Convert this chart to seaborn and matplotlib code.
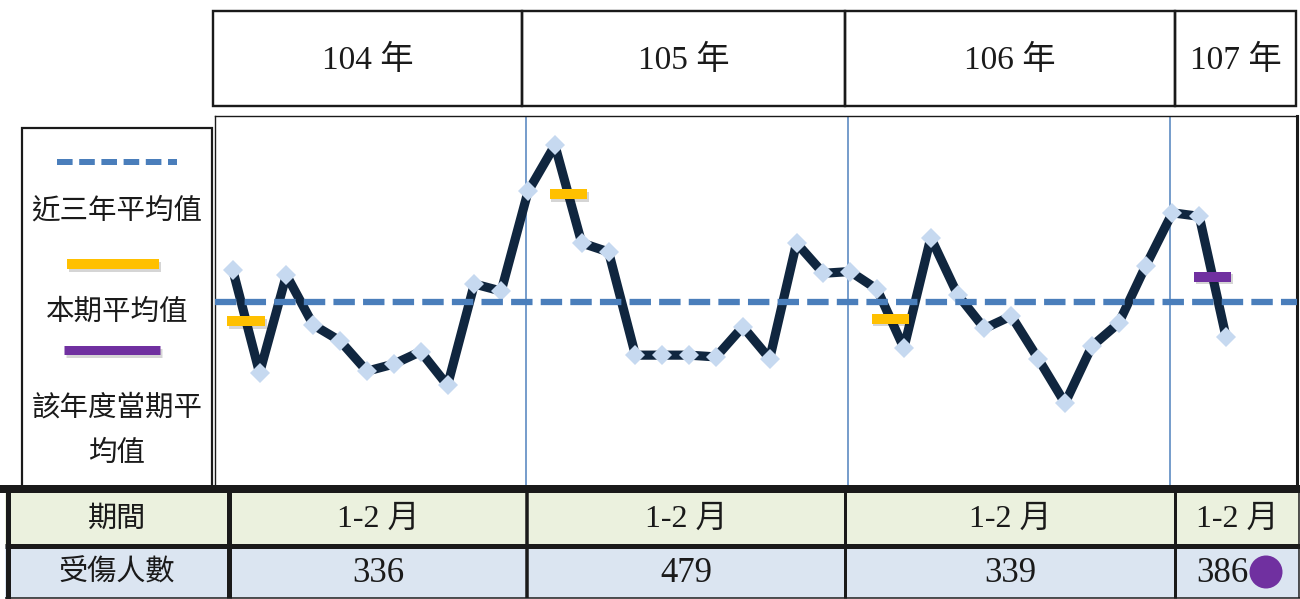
import numpy as np
import pandas as pd
import matplotlib
matplotlib.use("Agg")
import matplotlib.pyplot as plt
import matplotlib.patheffects as pe
from matplotlib.patches import Rectangle, Circle
import seaborn as sns

# ---------------- data ----------------
years = ["104 年", "105 年", "106 年", "107 年"]
months_per_year = [12, 12, 12, 2]
monthly_injured = [197, 139, 194, 166, 157, 140, 144, 151, 132, 189, 185, 241,
                   267, 212, 207, 149, 149, 149, 148, 165, 147, 212, 195, 196,
                   186, 153, 215, 183, 164, 171, 147, 122, 154, 167, 199, 229,
                   227, 159]
period_labels = ["1-2 月", "1-2 月", "1-2 月", "1-2 月"]
period_injured = [336, 479, 339, 386]
three_year_avg = 179
row_headers = ["期間", "受傷人數"]
legend_labels = ["近三年平均值", "本期平均值", "該年度當期平\n均值"]

# ---------------- style ----------------
sns.set_theme(style="white")
FAM = ["Liberation Serif", "Noto Sans CJK TC", "DejaVu Sans"]
plt.rcParams["font.family"] = FAM

NAVY = "#10263F"
LIGHT = "#C6D9F0"
DBLUE = "#4A7EBB"
VBLUE = "#4F81BD"
YELLOW = "#FFC000"
PURPLE = "#7030A0"
ROW1 = "#EBF1DE"
ROW2 = "#DBE5F1"

W, H = 1300, 599
PT = 0.72  # px -> pt at 100 dpi
fig = plt.figure(figsize=(W / 100, H / 100), dpi=100)


def rect_px(x0, y0, x1, y1):
    return [x0 / W, 1 - y1 / H, (x1 - x0) / W, (y1 - y0) / H]


# ---------------- main line chart ----------------
ax = fig.add_axes(rect_px(215, 116, 1297, 487))
idx = np.arange(len(monthly_injured))
df = pd.DataFrame({"idx": idx, "injured": monthly_injured,
                   "year": np.repeat(years, months_per_year)})
starts = np.cumsum([0] + months_per_year[:-1])
ends = np.cumsum(months_per_year) - 1

for e in ends[:-1]:
    ax.axvline(e - 0.08, color=VBLUE, lw=1.1, zorder=1)

sns.lineplot(data=df, x="idx", y="injured", ax=ax, color=NAVY, linewidth=6.6,
             marker="D", markersize=10, markerfacecolor=LIGHT,
             markeredgecolor=LIGHT, markeredgewidth=0, sort=False, zorder=3)

ax.axhline(three_year_avg, color=DBLUE, lw=6.3 * PT, dashes=(3.4, 1.3), zorder=4)

shadow = [pe.SimpleLineShadow(offset=(1.2, -1.8), shadow_color="k", alpha=0.18), pe.Normal()]
for i, (s, tot) in enumerate(zip(starts, period_injured)):
    col = PURPLE if i == len(period_injured) - 1 else YELLOW
    ax.plot([s - 0.2, s + 1.2], [tot / 2, tot / 2], color=col, lw=10 * PT,
            solid_capstyle="butt", zorder=5, path_effects=shadow)

ax.set_xlim(-0.66, 39.64)
ax.set_ylim(74.9, 283.4)
ax.set_xticks([])
ax.set_yticks([])
ax.set_xlabel("")
ax.set_ylabel("")
for side, sp in ax.spines.items():
    sp.set_visible(True)
    sp.set_color("k")
    sp.set_linewidth(1.0)
ax.spines["right"].set_linewidth(2.2)
if ax.get_legend() is not None:
    ax.get_legend().remove()

# ---------------- overlay (headers, legend, table) ----------------
ov = fig.add_axes([0, 0, 1, 1], zorder=10)
ov.set_xlim(0, W)
ov.set_ylim(H, 0)
ov.axis("off")

# year header boxes
hedges = [213, 522, 845, 1175, 1296]
for i, lab in enumerate(years):
    x0, x1 = hedges[i], hedges[i + 1]
    ov.add_patch(Rectangle((x0, 11), x1 - x0, 95, fill=False, ec="k", lw=2.4 * PT))
    ov.text((x0 + x1) / 2, 60, lab, ha="center", va="center", fontsize=24, color="k")

# legend box
ov.add_patch(Rectangle((22, 128), 190, 360, fill=False, ec="k", lw=2.2 * PT))
ov.plot([57, 177], [161.5, 161.5], color=DBLUE, lw=6 * PT, dashes=(2.6, 1.1))
ov.plot([67, 159], [264, 264], color=YELLOW, lw=10 * PT, solid_capstyle="butt",
        path_effects=shadow)
ov.plot([64, 160], [350, 350], color=PURPLE, lw=9 * PT, solid_capstyle="butt",
        path_effects=shadow)
leg_y = [211, 313, 408]
for lab, y in zip(legend_labels, leg_y):
    for k, line in enumerate(lab.split("\n")):
        ov.text(117, y + 46 * k, line, ha="center", va="center", fontsize=20.5, color="k")

# table
tedges = [5, 229, 527, 845, 1175, 1299]
ov.add_patch(Rectangle((5, 489), 1294, 56, fc=ROW1, ec="none"))
ov.add_patch(Rectangle((5, 545), 1294, 53, fc=ROW2, ec="none"))
ov.plot([0, 1300], [489, 489], color="k", lw=8 * PT, solid_capstyle="butt")
ov.plot([5, 1300], [545.5, 545.5], color="k", lw=5 * PT, solid_capstyle="butt")
ov.plot([5, 1300], [598, 598], color="k", lw=1.5 * PT, solid_capstyle="butt")
ov.plot([7.5, 7.5], [485, 599], color="k", lw=5 * PT, solid_capstyle="butt")
vw = [5, 3.5, 3, 3]
for x, w in zip(tedges[1:-1], vw):
    ov.plot([x, x], [489, 598], color="k", lw=w * PT, solid_capstyle="butt")
ov.plot([1299, 1299], [489, 598], color="k", lw=1.5 * PT, solid_capstyle="butt")

row_y = [519, 573]
for lab, y in zip(row_headers, row_y):
    ov.text(117, y, lab, ha="center", va="center", fontsize=21, color="k")

for i in range(len(period_labels)):
    x0, x1 = tedges[i + 1], tedges[i + 2]
    cx = (x0 + x1) / 2
    ov.text(cx, row_y[0], period_labels[i], ha="center", va="center", fontsize=23, color="k")
    if i == len(period_labels) - 1:
        ov.text(cx + 12, row_y[1], str(period_injured[i]), ha="right", va="center",
                fontsize=25, color="k")
        ov.add_patch(Circle((cx + 29, row_y[1] - 1), 16.5, fc=PURPLE, ec="none"))
    else:
        ov.text(cx, row_y[1], str(period_injured[i]), ha="center", va="center",
                fontsize=25, color="k")

fig.savefig("out.png", dpi=100)
